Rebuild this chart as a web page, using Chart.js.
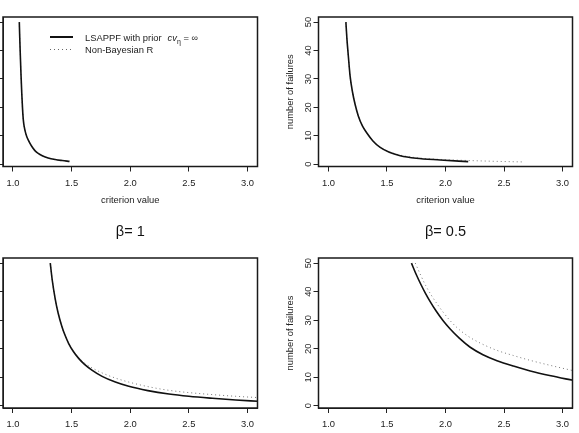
<!DOCTYPE html>
<html lang="en">
<head>
  <meta charset="UTF-8" />
  <title>Number of failures vs criterion value</title>
  <script src="https://cdn.jsdelivr.net/npm/chart.js"></script>
  <style>
    html, body { margin: 0; padding: 0; background: #fff; }
    body {
      width: 579px;
      height: 433px;
      position: relative;
      overflow: hidden;
      font-family: 'Liberation Sans', Arial, sans-serif;
    }
    .panel { position: absolute; }
    #legend {
      position: absolute;
      left: 50px;
      top: 31px;
      font-size: 9.4px;
      color: #222;
    }
    .lg-row { display: flex; align-items: center; height: 12.5px; white-space: nowrap; }
    .lg-swatch { width: 23px; margin-right: 12px; }
    .lg-solid { height: 1.6px; background: #111; }
    .lg-dotted { height: 1px; background: repeating-linear-gradient(to right, #666 0 1px, transparent 1px 4px); }
    .lg-cv { margin-left: 6px; }
    .lg-cv sub { font-size: 7px; vertical-align: -3px; line-height: 0; }
  </style>
</head>
<body>
  <div class="panel" style="left:-45px; top:0;"><canvas id="chartTL" width="306" height="216"></canvas></div>
  <div class="panel" style="left:282px; top:0;"><canvas id="chartTR" width="294" height="216"></canvas></div>
  <div class="panel" style="left:-45px; top:216px;"><canvas id="chartBL" width="306" height="240"></canvas></div>
  <div class="panel" style="left:282px; top:216px;"><canvas id="chartBR" width="294" height="240"></canvas></div>

  <div id="legend">
    <div class="lg-row"><span class="lg-swatch lg-solid"></span><span>LSAPPF with prior</span><span class="lg-cv"><i>cv</i><sub>η</sub> = ∞</span></div>
    <div class="lg-row"><span class="lg-swatch lg-dotted"></span><span>Non-Bayesian R</span></div>
  </div>

  <script>
    // axes
    const X_TICKS = [1.0, 1.5, 2.0, 2.5, 3.0];
    const X_TICK_LABELS = ['1.0', '1.5', '2.0', '2.5', '3.0'];
    const Y_TICKS = [0, 10, 20, 30, 40, 50];
    const X_LABEL = 'criterion value';
    const Y_LABEL = 'number of failures';
    const SERIES_NAMES = ['LSAPPF with prior', 'Non-Bayesian R'];

    // top left panel (both curves lie on top of each other)
    const TL_LSAPPF_X = [1.054, 1.058, 1.063, 1.069, 1.075, 1.081, 1.088, 1.096, 1.106, 1.118, 1.131, 1.15, 1.17, 1.189, 1.215, 1.25, 1.30, 1.36, 1.42, 1.482];
    const TL_LSAPPF_Y = [50, 44.2, 38, 31, 25, 20, 15.7, 13.2, 11.3, 9.7, 8.5, 7.0, 5.7, 4.7, 3.8, 3.0, 2.2, 1.65, 1.3, 1.0];
    const TL_NONBAYES_X = [1.054, 1.058, 1.063, 1.069, 1.075, 1.081, 1.088, 1.096, 1.106, 1.118, 1.131, 1.15, 1.17, 1.189, 1.215, 1.25, 1.30, 1.36, 1.42, 1.482];
    const TL_NONBAYES_Y = [50, 44.2, 38, 31, 25, 20, 15.7, 13.2, 11.3, 9.7, 8.5, 7.0, 5.7, 4.7, 3.8, 3.0, 2.2, 1.65, 1.3, 1.0];

    // top right panel
    const TR_LSAPPF_X = [1.149, 1.158, 1.17, 1.185, 1.205, 1.228, 1.255, 1.29, 1.328, 1.38, 1.442, 1.52, 1.613, 1.75, 1.955, 2.194];
    const TR_LSAPPF_Y = [50, 44, 38, 31, 25.5, 21, 17, 13.5, 11, 8.2, 5.9, 4.2, 3.0, 2.1, 1.5, 0.9];
    const TR_NONBAYES_X = [1.149, 1.158, 1.17, 1.185, 1.205, 1.228, 1.255, 1.29, 1.328, 1.38, 1.442, 1.52, 1.613, 1.75, 1.955, 2.2, 2.45, 2.67];
    const TR_NONBAYES_Y = [50, 44, 38, 31, 25.5, 21, 17, 13.5, 11, 8.3, 6.0, 4.4, 3.2, 2.3, 1.7, 1.3, 1.0, 0.8];

    // bottom left panel, beta = 1
    const BL_LSAPPF_X = [1.318, 1.335, 1.36, 1.385, 1.417, 1.445, 1.474, 1.515, 1.56, 1.61, 1.673, 1.76, 1.873, 1.987, 2.15, 2.33, 2.5, 2.7, 2.9, 3.09];
    const BL_LSAPPF_Y = [50, 44, 37.5, 32.5, 27.8, 24.6, 21.9, 19.0, 16.6, 14.5, 12.5, 10.3, 8.3, 6.8, 5.3, 4.1, 3.3, 2.6, 2.0, 1.55];
    const BL_NONBAYES_X = [1.318, 1.335, 1.36, 1.385, 1.417, 1.445, 1.474, 1.515, 1.56, 1.61, 1.673, 1.76, 1.873, 1.987, 2.15, 2.33, 2.5, 2.7, 2.9, 3.09];
    const BL_NONBAYES_Y = [50, 44, 37.5, 32.5, 27.8, 24.6, 21.9, 19.1, 16.9, 15.0, 13.3, 11.5, 9.7, 8.3, 6.7, 5.4, 4.6, 3.9, 3.3, 2.85];

    // bottom right panel, beta = 0.5
    const BR_LSAPPF_X = [1.709, 1.75, 1.79, 1.83, 1.869, 1.92, 1.98, 2.04, 2.12, 2.211, 2.32, 2.44, 2.58, 2.724, 2.9, 3.09];
    const BR_LSAPPF_Y = [50, 46.0, 42.5, 39.3, 36.5, 33.2, 29.8, 26.9, 23.6, 20.5, 17.9, 15.8, 13.9, 12.2, 10.5, 8.9];
    const BR_NONBAYES_X = [1.742, 1.79, 1.83, 1.869, 1.92, 1.98, 2.04, 2.12, 2.211, 2.32, 2.44, 2.58, 2.724, 2.9, 3.09];
    const BR_NONBAYES_Y = [50, 45.6, 42.2, 39.4, 36.2, 32.8, 29.8, 26.6, 23.9, 21.5, 19.4, 17.6, 15.9, 14.1, 12.3];

    const PANEL_TITLES = ['', '', 'β= 1', 'β= 0.5'];

    Chart.defaults.font.family = "'Liberation Sans', Arial, sans-serif";
    Chart.defaults.font.size = 9.4;
    Chart.defaults.color = '#222';

    function pts(xs, ys) {
      return xs.map((x, i) => ({ x: x, y: ys[i] }));
    }

    // R-style frame round the plot region
    const boxPlugin = {
      id: 'plotBox',
      afterDraw(chart) {
        const { ctx, chartArea: a } = chart;
        ctx.save();
        ctx.strokeStyle = '#1a1a1a';
        ctx.lineWidth = 1.5;
        ctx.strokeRect(a.left, a.top, a.right - a.left, a.bottom - a.top);
        ctx.restore();
      }
    };

    function makePanel(id, p) {
      return new Chart(document.getElementById(id), {
        type: 'line',
        data: {
          datasets: [
            {
              label: SERIES_NAMES[0],
              data: pts(p.solidX, p.solidY),
              borderColor: '#111',
              borderWidth: 1.6,
              pointRadius: 0,
              cubicInterpolationMode: 'monotone',
              fill: false
            },
            {
              label: SERIES_NAMES[1],
              data: pts(p.dotX, p.dotY),
              borderColor: '#777',
              borderWidth: 1,
              borderDash: [1, 3],
              pointRadius: 0,
              cubicInterpolationMode: 'monotone',
              fill: false
            }
          ]
        },
        options: {
          responsive: false,
          animation: false,
          devicePixelRatio: 1,
          layout: { padding: { top: p.title ? 0 : 17, right: 3.5, left: 0, bottom: 0 } },
          plugins: {
            legend: { display: false },
            tooltip: { enabled: false },
            title: {
              display: !!p.title,
              text: p.title,
              fullSize: false,
              color: '#111',
              font: { size: 14.5, weight: 'normal' },
              padding: { top: 7.3, bottom: 17.3 }
            }
          },
          scales: {
            x: {
              type: 'linear',
              bounds: 'data',
              min: 0.915,
              max: 3.085,
              afterBuildTicks: s => { s.ticks = X_TICKS.map(v => ({ value: v })); },
              afterFit: s => { s.height = p.xAxisH; },
              ticks: { autoSkip: false, maxRotation: 0, padding: 6, callback: (v, i) => X_TICK_LABELS[i] },
              grid: { drawOnChartArea: false, tickLength: 5, color: '#222' },
              border: { color: '#222', width: 1 },
              title: { display: true, text: X_LABEL, padding: { top: 0, bottom: p.xTitlePad } }
            },
            y: {
              type: 'linear',
              bounds: 'data',
              min: -0.8,
              max: 51.8,
              afterBuildTicks: s => { s.ticks = Y_TICKS.map(v => ({ value: v })); },
              afterFit: s => { s.width = p.yAxisW; },
              ticks: { autoSkip: false, minRotation: 90, maxRotation: 90, padding: 0, crossAlign: 'center' },
              grid: { drawOnChartArea: false, tickLength: 5, color: '#222' },
              border: { color: '#222', width: 1 },
              title: { display: true, text: Y_LABEL, padding: { top: 2.4, bottom: 0 } }
            }
          }
        },
        plugins: [boxPlugin]
      });
    }

    makePanel('chartTL', { solidX: TL_LSAPPF_X, solidY: TL_LSAPPF_Y, dotX: TL_NONBAYES_X, dotY: TL_NONBAYES_Y,
      title: PANEL_TITLES[0], xAxisH: 49.5, xTitlePad: 10.4, yAxisW: 48 });
    makePanel('chartTR', { solidX: TR_LSAPPF_X, solidY: TR_LSAPPF_Y, dotX: TR_NONBAYES_X, dotY: TR_NONBAYES_Y,
      title: PANEL_TITLES[1], xAxisH: 49.5, xTitlePad: 10.4, yAxisW: 36.5 });
    makePanel('chartBL', { solidX: BL_LSAPPF_X, solidY: BL_LSAPPF_Y, dotX: BL_NONBAYES_X, dotY: BL_NONBAYES_Y,
      title: PANEL_TITLES[2], xAxisH: 48, xTitlePad: 8, yAxisW: 48 });
    makePanel('chartBR', { solidX: BR_LSAPPF_X, solidY: BR_LSAPPF_Y, dotX: BR_NONBAYES_X, dotY: BR_NONBAYES_Y,
      title: PANEL_TITLES[3], xAxisH: 48, xTitlePad: 8, yAxisW: 36.5 });
  </script>
</body>
</html>
